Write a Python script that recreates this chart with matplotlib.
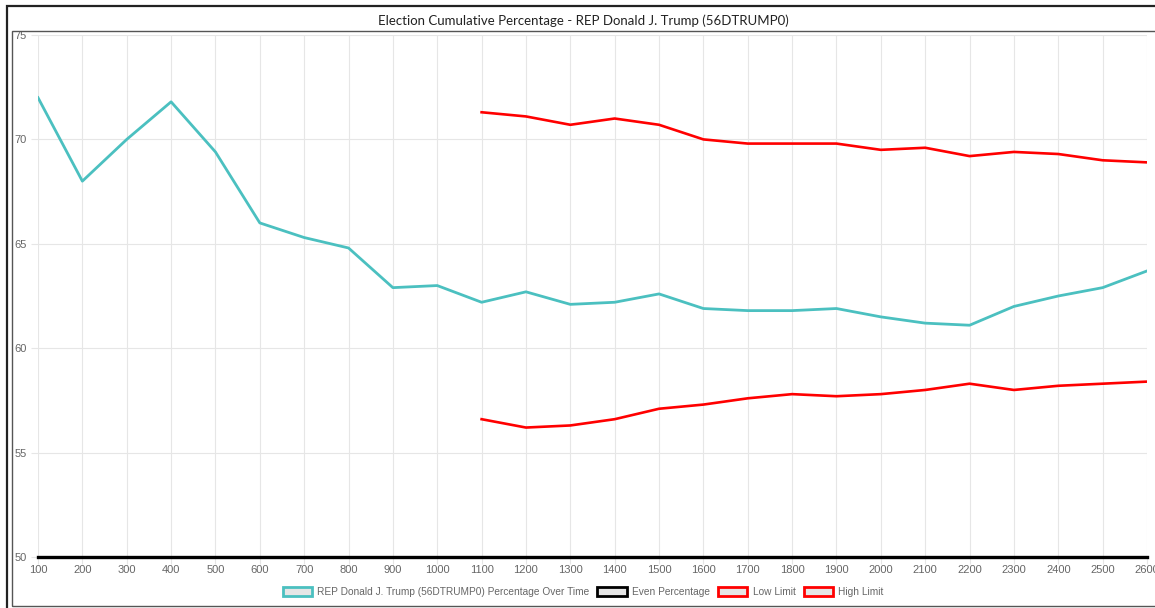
import matplotlib.pyplot as plt
from matplotlib.patches import Patch, Rectangle

# ---------- DATA ----------
x_vals = [100, 200, 300, 400, 500, 600, 700, 800, 900, 1000, 1100, 1200, 1300,
          1400, 1500, 1600, 1700, 1800, 1900, 2000, 2100, 2200, 2300, 2400,
          2500, 2600]

trump_pct = [72.0, 68.0, 70.0, 71.8, 69.4, 66.0, 65.3, 64.8, 62.9, 63.0, 62.2,
             62.7, 62.1, 62.2, 62.6, 61.9, 61.8, 61.8, 61.9, 61.5, 61.2, 61.1,
             62.0, 62.5, 62.9, 63.7]

even_pct = [50] * len(x_vals)

limit_x = x_vals[10:]
low_limit = [56.6, 56.2, 56.3, 56.6, 57.1, 57.3, 57.6, 57.8, 57.7, 57.8, 58.0,
             58.3, 58.0, 58.2, 58.3, 58.4]
high_limit = [71.3, 71.1, 70.7, 71.0, 70.7, 70.0, 69.8, 69.8, 69.8, 69.5, 69.6,
              69.2, 69.4, 69.3, 69.0, 68.9]

title = "Election Cumulative Percentage - REP Donald J. Trump (56DTRUMP0)"
series_names = ["REP Donald J. Trump (56DTRUMP0) Percentage Over Time",
                "Even Percentage", "Low Limit", "High Limit"]

TEAL = "#4bc0c0"
RED = "#ff0000"
GRID = "#e6e6e6"
TXT = "#666666"

W, H = 1155, 608
fig = plt.figure(figsize=(W / 100, H / 100), dpi=100)
plt.rcParams['font.family'] = ['Liberation Sans', 'DejaVu Sans']

# frames around the chart
fig.add_artist(Rectangle((7 / W, -0.1), 1.2, 1 - 6 / H + 0.1, transform=fig.transFigure,
                         fill=False, edgecolor="#222222", linewidth=1.6))
fig.add_artist(Rectangle((12 / W, 1 - 606 / H), 1.2, (606 - 31) / H, transform=fig.transFigure,
                         fill=False, edgecolor="#555555", linewidth=1.0))

ax = fig.add_axes([38 / W, 1 - 557 / H, (1147 - 38) / W, (557 - 35) / H])

ax.plot(x_vals, trump_pct, color=TEAL, linewidth=2.0, zorder=3)
ax.plot(x_vals, even_pct, color="black", linewidth=2.4, zorder=4, clip_on=False)
ax.plot(limit_x, low_limit, color=RED, linewidth=1.9, zorder=3)
ax.plot(limit_x, high_limit, color=RED, linewidth=1.9, zorder=3)

ax.set_xlim(100, 2600)
ax.set_ylim(50, 75)
ax.set_xticks(x_vals)
ax.set_yticks([50, 55, 60, 65, 70, 75])
ax.grid(True, color=GRID, linewidth=0.8)
ax.set_axisbelow(True)
for s in ax.spines.values():
    s.set_visible(False)
ax.tick_params(axis="both", colors=GRID, labelcolor=TXT, labelsize=8, length=5, width=0.8)
ax.tick_params(axis="y", pad=3)
ax.tick_params(axis="x", pad=1)

fig.text(583 / W, 1 - 21 / H, title, ha="center", va="center", fontsize=9.5,
         family=["Lato", "DejaVu Sans"], color="#222222")

handles = [Patch(facecolor="#e6e6e6", edgecolor=TEAL, linewidth=2),
           Patch(facecolor="#e6e6e6", edgecolor="black", linewidth=2),
           Patch(facecolor="#e6e6e6", edgecolor=RED, linewidth=2),
           Patch(facecolor="#e6e6e6", edgecolor=RED, linewidth=2)]
leg = fig.legend(handles, series_names, loc="center", bbox_to_anchor=(583 / W, 1 - 592 / H),
                 ncol=4, frameon=False, fontsize=7.3, handlelength=2.9, handleheight=0.9,
                 handletextpad=0.5, columnspacing=0.8, labelcolor=TXT)

fig.savefig("out.png", dpi=100)
